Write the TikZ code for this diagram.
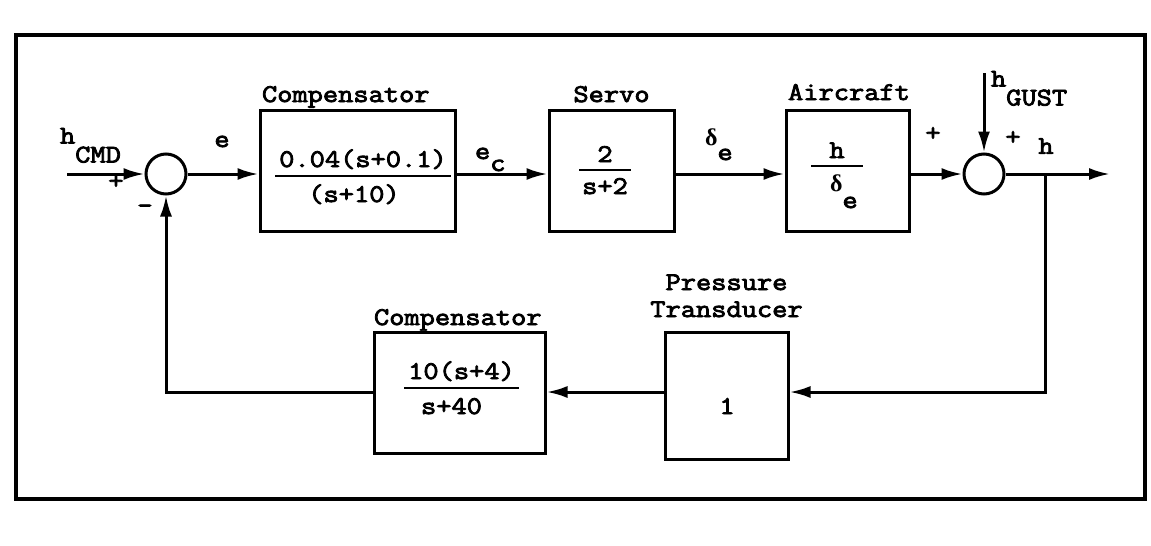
\documentclass[tikz,border=0pt]{standalone}
\usepackage{fontspec}
\newfontfamily\tw[FakeStretch=1.16,FakeBold=3.2]{Latin Modern Mono}
\newfontfamily\gr{Liberation Serif}
\usetikzlibrary{arrows.meta,calc}
\begin{document}
\begin{tikzpicture}[x=1pt,y=-1pt]
\tikzset{
 lbl/.style={font=\fontsize{25.5}{29}\tw, inner sep=0pt, outer sep=0pt},
 blk/.style={draw, line width=3pt, inner sep=0pt},
 sumj/.style={draw, circle, line width=3pt, minimum size=40pt, inner sep=0pt},
 sig/.style={line width=3pt, -{Latex[length=21pt,width=12pt]}},
 fbar/.style={line width=2.6pt},
}
\newcommand{\dlt}{{\gr\bfseries\fontsize{24}{28}\selectfont δ}}
\fill[white] (0,0) rectangle (1151,546);
\useasboundingbox (0,0) rectangle (1151,546);
\draw[line width=4pt] (16,35) rectangle (1145,499);

% blocks
\node[sumj] (s1) at (166,174) {};
\node[sumj] (s2) at (984,174) {};
\node[blk, minimum width=195pt, minimum height=121pt] (c1) at (357.5,170.5) {};
\node[blk, minimum width=125pt, minimum height=121pt] (sv) at (611.5,170.5) {};
\node[blk, minimum width=123pt, minimum height=121pt] (ac) at (847.5,170.5) {};
\node[blk, minimum width=171pt, minimum height=121pt] (c2) at (459.5,392.5) {};
\node[blk, minimum width=123pt, minimum height=127pt] (pt) at (726.5,395.5) {};

% titles
\node[lbl, anchor=base west] (c1t) at (262,102) {Compensator};
\node[lbl, anchor=base] (svt) at (611.5,102) {Servo};
\node[lbl, anchor=base] (act) at (849,100) {Aircraft};
\node[lbl, anchor=base west] (c2t) at (374,325) {Compensator};
\node[lbl, anchor=base] (ptt1) at (726.5,290) {Pressure};
\node[lbl, anchor=base] (ptt2) at (726.5,317) {Transducer};

% transfer functions
\node[lbl, anchor=base] (c1n) at (363,167) {0.04(s+0.1)};
\node[lbl, anchor=base] (c1d) at (354,202) {(s+10)};
\draw[fbar] ($(c1n.base west)+(-4,9)$) -- ($(c1n.base east)+(4,9)$);
\node[lbl, anchor=base] (svn) at (605,162) {2};
\node[lbl, anchor=base] (svd) at (605,194) {s+2};
\draw[fbar] ($(svd.base west)+(-3,-24)$) -- ($(svd.base east)+(3,-24)$);
\node[lbl, anchor=base] (acn) at (837,158) {h};
\node[lbl, anchor=base west] (acd) at (830,191) {\dlt\raisebox{-17pt}{e}};
\draw[fbar] ($(acn.base)+(-26,8)$) -- ($(acn.base)+(26,8)$);
\node[lbl, anchor=base] (c2n) at (461.5,379) {10(s+4)};
\node[lbl, anchor=base] (c2d) at (451.5,414) {s+40};
\draw[fbar] ($(c2n.base west)+(-4,9)$) -- ($(c2n.base east)+(4,9)$);
\node[lbl, anchor=base] (ptv) at (727,414) {1};

% signal labels
\node[lbl, anchor=base west] (hcmd) at (60,143.5) {h\raisebox{-19pt}{CMD}};
\node[lbl] (p1) at (116,182) {+};
\node[lbl] (m1) at (145,209) {-};
\node[lbl, anchor=base] (e) at (222,147) {e};
\node[lbl, anchor=base west] (ec) at (475,159) {e\raisebox{-12pt}{c}};
\node[lbl, anchor=base west] (de) at (705,145) {\dlt\raisebox{-15pt}{e}};
\node[lbl] (p2) at (933,134) {+};
\node[lbl] (p3) at (1013,138) {+};
\node[lbl] (hout) at (1046,146) {h};
\node[lbl, anchor=base west] (hg) at (991,86.5) {h\raisebox{-19pt}{GUST}};

% connectors
\coordinate (in) at (67,174);
\coordinate (out) at (1110,174);
\coordinate (gust) at (984,73);
\coordinate (br) at (1045,174);
\coordinate (brd) at (1045,392);
\draw[sig] (in) -- (s1.west);
\draw[sig] (s1.east) -- (s1.east -| c1.west);
\draw[sig] (s1.east -| c1.east) -- (s1.east -| sv.west);
\draw[sig] (s1.east -| sv.east) -- (s1.east -| ac.west);
\draw[sig] (s1.east -| ac.east) -- (s2.west);
\draw[sig] (s2.east) -- (out);
\draw[sig] (gust) -- (s2.north);
\draw[sig] (br) -- (brd) -- (brd -| pt.east);
\draw[sig] (brd -| pt.west) -- (brd -| c2.east);
\draw[sig] (brd -| c2.west) -- (brd -| s1) -- (s1.south);
\end{tikzpicture}
\end{document}
